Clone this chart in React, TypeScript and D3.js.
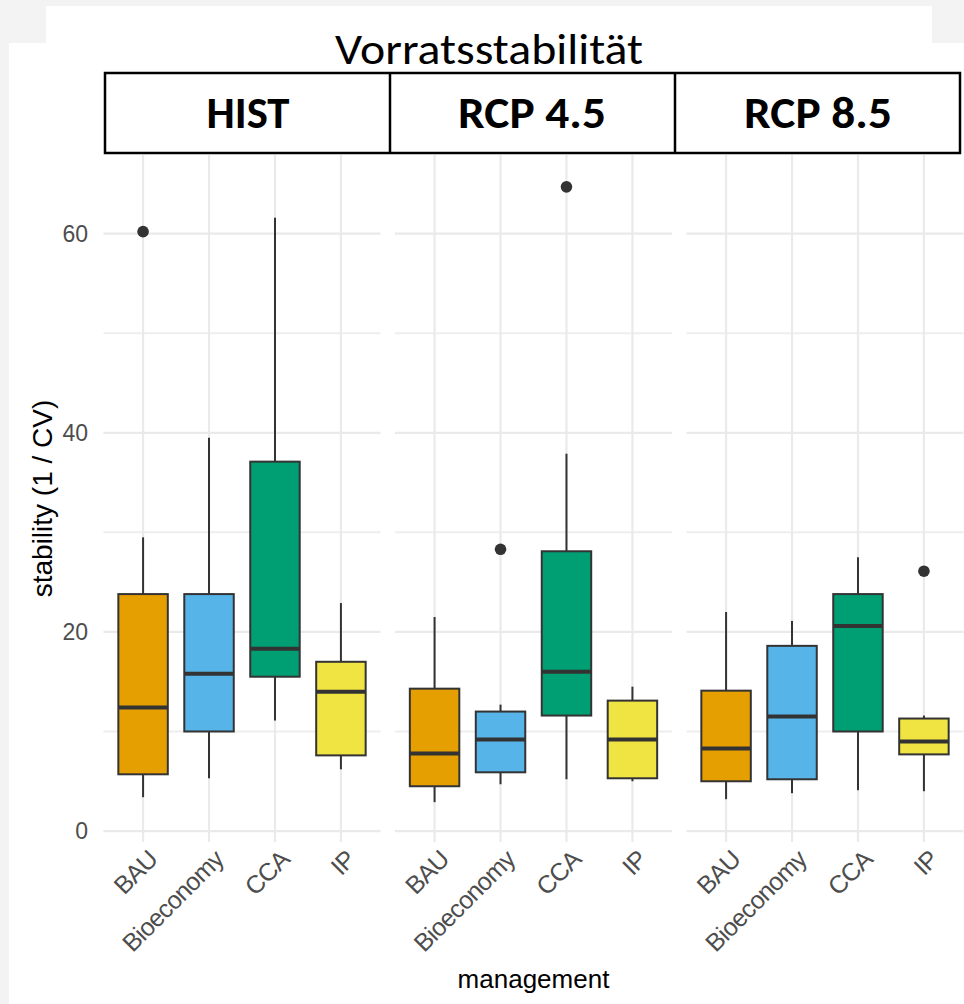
import React from "react";
import * as d3 from "d3";

// management categories and scenario panels
const managements = ["BAU", "Bioeconomy", "CCA", "IP"];
const scenarios = ["HIST", "RCP 4.5", "RCP 8.5"];
const colors = ["#E69F00", "#56B4E9", "#009E73", "#F0E442"];

// box stats: [whisker low, q1, median, q3, whisker high]
const histStats = [
	[3.4, 5.7, 12.4, 23.8, 29.5],
	[5.3, 10.0, 15.8, 23.8, 39.5],
	[11.1, 15.5, 18.3, 37.1, 61.6],
	[6.2, 7.6, 14.0, 17.0, 22.9],
];
const rcp45Stats = [
	[2.9, 4.5, 7.8, 14.3, 21.5],
	[4.7, 5.9, 9.2, 12.0, 12.7],
	[5.2, 11.6, 16.0, 28.1, 37.9],
	[5.0, 5.3, 9.2, 13.1, 14.5],
];
const rcp85Stats = [
	[3.2, 5.0, 8.3, 14.1, 22.0],
	[3.8, 5.2, 11.5, 18.6, 21.1],
	[4.1, 10.0, 20.6, 23.8, 27.5],
	[4.0, 7.7, 9.0, 11.3, 11.6],
];
const histOutliers = [[60.2], [], [], []];
const rcp45Outliers = [[], [28.3], [64.7], []];
const rcp85Outliers = [[], [], [], [26.1]];

const majorTicks = [0, 20, 40, 60];
const minorTicks = [10, 30, 50];

const W = 964;
const H = 1004;

export default function App() {
	const panelW = 277;
	const gap = 14.5;
	const left = 103.5;
	const top = 155;
	const bottom = 842;

	const stats = [histStats, rcp45Stats, rcp85Stats];
	const outliers = [histOutliers, rcp45Outliers, rcp85Outliers];

	const y = d3.scaleLinear().domain([-1.1, 67.9]).range([bottom, top]);

	const panels = scenarios.map((s, i) => {
		const x0 = left + i * (panelW + gap);
		const x = d3
			.scalePoint()
			.domain(managements)
			.range([x0, x0 + panelW])
			.padding(0.6);
		return { s, x0, x, stats: stats[i], outs: outliers[i] };
	});

	const boxW = panels[0].x.step() * 0.75;
	const tickFont = "'Liberation Sans', Arial, sans-serif";
	const ink = "#333333";

	return (
		<svg
			width={W}
			height={H}
			style={{ position: "absolute", left: 0, top: 0, display: "block" }}
		>
			{/* screenshot frame */}
			<rect x={0} y={0} width={W} height={H} fill="#f3f3f3" />
			<rect x={46} y={6} width={886} height={40} fill="#ffffff" />
			<rect x={9} y={43} width={W - 9} height={H - 43} fill="#ffffff" />

			{panels.map((p) => (
				<g key={p.s}>
					{minorTicks.map((t) => (
						<line
							key={"mn" + t}
							x1={p.x0}
							x2={p.x0 + panelW}
							y1={y(t)}
							y2={y(t)}
							stroke="#eeeeee"
							strokeWidth={2}
						/>
					))}
					{majorTicks.map((t) => (
						<line
							key={"mj" + t}
							x1={p.x0}
							x2={p.x0 + panelW}
							y1={y(t)}
							y2={y(t)}
							stroke="#eaeaea"
							strokeWidth={2.2}
						/>
					))}
					{managements.map((m) => (
						<line
							key={"v" + m}
							x1={p.x(m)}
							x2={p.x(m)}
							y1={top}
							y2={bottom}
							stroke="#eaeaea"
							strokeWidth={2.2}
						/>
					))}
				</g>
			))}

			{panels.map((p) =>
				managements.map((m, j) => {
					const cx = p.x(m) as number;
					const [lo, q1, med, q3, hi] = p.stats[j];
					return (
						<g key={p.s + m}>
							<line x1={cx} x2={cx} y1={y(hi)} y2={y(q3)} stroke={ink} strokeWidth={2} />
							<line x1={cx} x2={cx} y1={y(q1)} y2={y(lo)} stroke={ink} strokeWidth={2} />
							<rect
								x={cx - boxW / 2}
								y={y(q3)}
								width={boxW}
								height={y(q1) - y(q3)}
								fill={colors[j]}
								stroke={ink}
								strokeWidth={2}
							/>
							<line
								x1={cx - boxW / 2}
								x2={cx + boxW / 2}
								y1={y(med)}
								y2={y(med)}
								stroke={ink}
								strokeWidth={4}
							/>
							{p.outs[j].map((o, k) => (
								<circle key={k} cx={cx} cy={y(o)} r={5.8} fill={ink} />
							))}
						</g>
					);
				})
			)}

			{/* y axis */}
			{majorTicks.map((t) => (
				<text
					key={"yt" + t}
					x={88}
					y={y(t)}
					dy="0.36em"
					textAnchor="end"
					fontFamily={tickFont}
					fontSize={23}
					fill="#4d4d4d"
				>
					{t}
				</text>
			))}
			<text
				transform={`translate(52,${(top + bottom) / 2}) rotate(-90)`}
				textAnchor="middle"
				fontFamily={tickFont}
				fontSize={28}
				fill="#000"
			>
				stability (1 / CV)
			</text>

			{/* x axis labels */}
			{panels.map((p) =>
				managements.map((m) => (
					<text
						key={"xl" + p.s + m}
						transform={`translate(${(p.x(m) as number) + 16},861) rotate(-45)`}
						textAnchor="end"
						fontFamily={tickFont}
						fontSize={25}
						letterSpacing={-0.7}
						fill="#4d4d4d"
					>
						{m}
					</text>
				))
			)}
			<text
				x={left + (3 * panelW + 2 * gap) / 2}
				y={988}
				textAnchor="middle"
				fontFamily={tickFont}
				fontSize={26}
				fill="#000"
			>
				management
			</text>

			{/* title and strip overlay */}
			<text
				x={489}
				y={64}
				textAnchor="middle"
				fontFamily="Carlito, Roboto, 'Open Sans', sans-serif"
				fontSize={44}
				textLength={308}
				lengthAdjust="spacingAndGlyphs"
				fill="#000"
			>
				Vorratsstabilität
			</text>
			<rect x={105} y={73} width={855} height={80} fill="#ffffff" stroke="#000" strokeWidth={2.5} />
			<line x1={390} x2={390} y1={73} y2={153} stroke="#000" strokeWidth={2.5} />
			<line x1={675} x2={675} y1={73} y2={153} stroke="#000" strokeWidth={2.5} />
			{scenarios.map((s, i) => (
				<text
					key={"st" + s}
					x={[248, 532, 818][i]}
					y={128}
					textAnchor="middle"
					fontFamily="Carlito, Roboto, 'Open Sans', sans-serif"
					fontWeight="bold"
					fontSize={44}
					textLength={[83, 148, 148][i]}
					lengthAdjust="spacingAndGlyphs"
					fill="#000"
				>
					{s}
				</text>
			))}
		</svg>
	);
}
